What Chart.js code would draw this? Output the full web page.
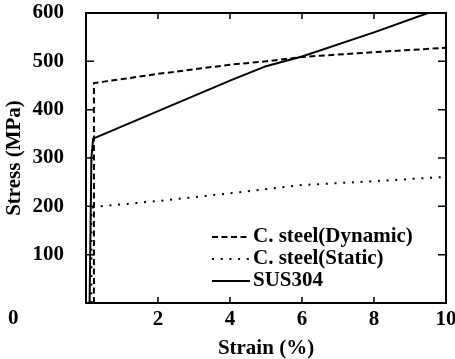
<!DOCTYPE html>
<html>
<head>
<meta charset="utf-8">
<script src="https://cdn.jsdelivr.net/npm/chart.js@4.4.1/dist/chart.umd.min.js"></script>
<style>
    html, body { margin: 0; padding: 0; background: #fff; }
    #wrap { width: 455px; height: 359px; }
</style>
</head>
<body>
<div id="wrap"><canvas id="stressChart"></canvas></div>
<script>
// Strain (%) and stress (MPa)
const dynStrain = [0.22, 0.22, 0.5, 2, 4, 5, 6, 8, 10];
const dynStress = [0, 455, 458, 474, 493, 500, 509, 519, 528];
const staStrain = [0.15, 0.15, 0.25, 2, 4, 6, 8, 10];
const staStress = [0, 196, 199, 211, 227, 244, 252, 261];
const susStrain = [0.1, 0.15, 0.2, 2, 4, 5, 6, 8, 9.5];
const susStress = [0, 300, 340, 397, 460, 490, 510, 560, 600];
const seriesNames = ['C. steel(Dynamic)', 'C. steel(Static)', 'SUS304'];
const xTicks = [0, 2, 4, 6, 8, 10];
const yTicks = [0, 100, 200, 300, 400, 500, 600];

const serif = "'Liberation Serif', 'Times New Roman', serif";
Chart.defaults.font.family = serif;
Chart.defaults.font.weight = 'bold';
Chart.defaults.font.size = 21;
Chart.defaults.color = '#000';

const toPoints = (xs, ys) => xs.map((x, i) => ({ x: x, y: ys[i] }));

// box around the plot, inward ticks, legend inside the plot, shared "0"
const frameAndLegend = {
    id: 'frameAndLegend',
    afterDraw(chart) {
        const ctx = chart.ctx;
        const a = chart.chartArea;
        const xs = chart.scales.x;
        const ys = chart.scales.y;
        ctx.save();
        ctx.strokeStyle = '#000';
        ctx.lineWidth = 2;
        ctx.strokeRect(a.left, a.top, a.right - a.left, a.bottom - a.top);

        ctx.lineWidth = 1.5;
        ctx.beginPath();
        xTicks.slice(1, -1).forEach(v => {
            const px = xs.getPixelForValue(v);
            ctx.moveTo(px, a.bottom); ctx.lineTo(px, a.bottom - 6);
            ctx.moveTo(px, a.top); ctx.lineTo(px, a.top + 6);
        });
        yTicks.slice(1, -1).forEach(v => {
            const py = ys.getPixelForValue(v);
            ctx.moveTo(a.left, py); ctx.lineTo(a.left + 8, py);
            ctx.moveTo(a.right, py); ctx.lineTo(a.right - 8, py);
        });
        ctx.stroke();

        // legend
        ctx.font = 'bold 21px ' + serif;
        ctx.fillStyle = '#000';
        ctx.textAlign = 'left';
        ctx.textBaseline = 'middle';
        chart.data.datasets.forEach((ds, i) => {
            const y = a.bottom - 66 + i * 22;
            const x0 = a.left + 126;
            ctx.beginPath();
            ctx.lineWidth = ds.borderWidth;
            ctx.setLineDash(ds.borderDash || []);
            ctx.moveTo(x0, y); ctx.lineTo(x0 + 38, y);
            ctx.stroke();
            ctx.setLineDash([]);
            ctx.fillText(ds.label, x0 + 41, y);
        });

        // origin label
        ctx.fillText('0', a.left - 78, a.bottom + 16);
        ctx.restore();
    }
};

const ctx = document.getElementById('stressChart').getContext('2d');
const stressChart = new Chart(ctx, {
    type: 'line',
    data: {
        datasets: [
            {
                label: seriesNames[0],
                data: toPoints(dynStrain, dynStress),
                borderColor: '#000',
                borderWidth: 2,
                borderDash: [6, 3.5],
                pointRadius: 0,
                fill: false
            },
            {
                label: seriesNames[1],
                data: toPoints(staStrain, staStress),
                borderColor: '#000',
                borderWidth: 2,
                borderDash: [2, 6.7],
                pointRadius: 0,
                fill: false
            },
            {
                label: seriesNames[2],
                data: toPoints(susStrain, susStress),
                borderColor: '#000',
                borderWidth: 2,
                pointRadius: 0,
                fill: false
            }
        ]
    },
    options: {
        responsive: true,
        maintainAspectRatio: false,
        animation: false,
        events: [],
        layout: {
            padding: { top: 13, right: 9, left: 0, bottom: 0 }
        },
        plugins: {
            legend: { display: false },
            tooltip: { enabled: false }
        },
        scales: {
            x: {
                type: 'linear',
                min: 0,
                max: 10,
                grid: { display: false },
                border: { display: false },
                ticks: {
                    stepSize: 2,
                    padding: -4,
                    maxRotation: 0,
                    callback: v => (v === 0 ? '' : v)
                },
                title: {
                    display: true,
                    text: 'Strain (%)',
                    padding: { top: 0, bottom: -2 }
                },
                afterFit: scale => {
                    scale.height = 56;
                    scale.paddingLeft = 0;
                    scale.paddingRight = 0;
                }
            },
            y: {
                min: 0,
                max: 600,
                grid: { display: false },
                border: { display: false },
                ticks: {
                    stepSize: 100,
                    padding: 14,
                    callback: v => (v === 0 ? '' : v)
                },
                title: {
                    display: true,
                    text: 'Stress (MPa)',
                    padding: { top: 2, bottom: 0 }
                },
                afterFit: scale => {
                    scale.width = 86;
                    scale.paddingTop = 0;
                    scale.paddingBottom = 0;
                }
            }
        }
    },
    plugins: [frameAndLegend]
});
</script>
</body>
</html>
